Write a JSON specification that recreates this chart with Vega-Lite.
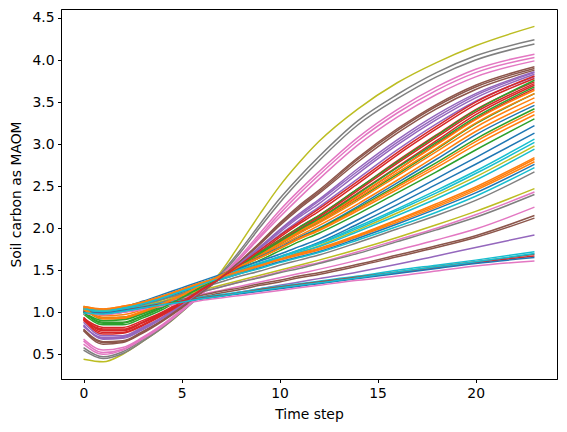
{"$schema":"https://vega.github.io/schema/vega-lite/v6.json","width":496,"height":370,"autosize":"none","padding":{"left":61,"top":9,"right":10,"bottom":53},"config":{"view":{"stroke":"#000","strokeWidth":1},"axis":{"grid":false,"domainColor":"#000","domainWidth":1,"tickColor":"#000","tickWidth":1,"tickSize":3.5,"labelColor":"#000","labelFont":"DejaVu Sans","labelFontSize":13.9,"labelPadding":3.5,"titleColor":"#000","titleFont":"DejaVu Sans","titleFontSize":13.9,"titleFontWeight":"normal"}},
"data":{"values":[
{"s":1,"t":0,"v":0.44},{"s":1,"t":1,"v":0.41},{"s":1,"t":2,"v":0.50},{"s":1,"t":3,"v":0.65},{"s":1,"t":4,"v":0.81},{"s":1,"t":5,"v":1.00},{"s":1,"t":6,"v":1.23},{"s":1,"t":7,"v":1.48},{"s":1,"t":8,"v":1.82},{"s":1,"t":9,"v":2.17},{"s":1,"t":10,"v":2.50},{"s":1,"t":11,"v":2.78},{"s":1,"t":12,"v":3.03},{"s":1,"t":14,"v":3.42},{"s":1,"t":16,"v":3.73},{"s":1,"t":18,"v":3.97},{"s":1,"t":20,"v":4.17},{"s":1,"t":23,"v":4.40},
{"s":2,"t":0,"v":0.58},{"s":2,"t":1,"v":0.47},{"s":2,"t":2,"v":0.53},{"s":2,"t":3,"v":0.67},{"s":2,"t":4,"v":0.83},{"s":2,"t":5,"v":1.02},{"s":2,"t":6,"v":1.23},{"s":2,"t":7,"v":1.46},{"s":2,"t":8,"v":1.74},{"s":2,"t":9,"v":2.05},{"s":2,"t":10,"v":2.35},{"s":2,"t":11,"v":2.61},{"s":2,"t":12,"v":2.85},{"s":2,"t":14,"v":3.28},{"s":2,"t":16,"v":3.59},{"s":2,"t":18,"v":3.85},{"s":2,"t":20,"v":4.05},{"s":2,"t":23,"v":4.24},
{"s":3,"t":0,"v":0.55},{"s":3,"t":1,"v":0.45},{"s":3,"t":2,"v":0.51},{"s":3,"t":3,"v":0.65},{"s":3,"t":4,"v":0.81},{"s":3,"t":5,"v":1.00},{"s":3,"t":6,"v":1.21},{"s":3,"t":7,"v":1.44},{"s":3,"t":8,"v":1.71},{"s":3,"t":9,"v":2.01},{"s":3,"t":10,"v":2.30},{"s":3,"t":11,"v":2.56},{"s":3,"t":12,"v":2.80},{"s":3,"t":14,"v":3.23},{"s":3,"t":16,"v":3.54},{"s":3,"t":18,"v":3.80},{"s":3,"t":20,"v":4.00},{"s":3,"t":23,"v":4.19},
{"s":4,"t":0,"v":0.66},{"s":4,"t":1,"v":0.52},{"s":4,"t":2,"v":0.56},{"s":4,"t":3,"v":0.69},{"s":4,"t":4,"v":0.84},{"s":4,"t":5,"v":1.02},{"s":4,"t":6,"v":1.22},{"s":4,"t":7,"v":1.43},{"s":4,"t":8,"v":1.67},{"s":4,"t":9,"v":1.94},{"s":4,"t":10,"v":2.21},{"s":4,"t":11,"v":2.45},{"s":4,"t":12,"v":2.67},{"s":4,"t":14,"v":3.08},{"s":4,"t":16,"v":3.41},{"s":4,"t":18,"v":3.68},{"s":4,"t":20,"v":3.89},{"s":4,"t":23,"v":4.07},
{"s":5,"t":0,"v":0.62},{"s":5,"t":1,"v":0.50},{"s":5,"t":2,"v":0.55},{"s":5,"t":3,"v":0.68},{"s":5,"t":4,"v":0.83},{"s":5,"t":5,"v":1.01},{"s":5,"t":6,"v":1.21},{"s":5,"t":7,"v":1.42},{"s":5,"t":8,"v":1.65},{"s":5,"t":9,"v":1.91},{"s":5,"t":10,"v":2.17},{"s":5,"t":11,"v":2.41},{"s":5,"t":12,"v":2.63},{"s":5,"t":14,"v":3.04},{"s":5,"t":16,"v":3.37},{"s":5,"t":18,"v":3.64},{"s":5,"t":20,"v":3.85},{"s":5,"t":23,"v":4.03},
{"s":6,"t":0,"v":0.68},{"s":6,"t":1,"v":0.55},{"s":6,"t":2,"v":0.58},{"s":6,"t":3,"v":0.70},{"s":6,"t":4,"v":0.85},{"s":6,"t":5,"v":1.03},{"s":6,"t":6,"v":1.22},{"s":6,"t":7,"v":1.42},{"s":6,"t":8,"v":1.64},{"s":6,"t":9,"v":1.89},{"s":6,"t":10,"v":2.13},{"s":6,"t":11,"v":2.36},{"s":6,"t":12,"v":2.58},{"s":6,"t":14,"v":2.99},{"s":6,"t":16,"v":3.32},{"s":6,"t":18,"v":3.59},{"s":6,"t":20,"v":3.80},{"s":6,"t":23,"v":3.99},
{"s":7,"t":0,"v":0.78},{"s":7,"t":1,"v":0.62},{"s":7,"t":2,"v":0.64},{"s":7,"t":3,"v":0.75},{"s":7,"t":4,"v":0.89},{"s":7,"t":5,"v":1.05},{"s":7,"t":6,"v":1.23},{"s":7,"t":7,"v":1.41},{"s":7,"t":8,"v":1.61},{"s":7,"t":9,"v":1.83},{"s":7,"t":10,"v":2.06},{"s":7,"t":11,"v":2.27},{"s":7,"t":12,"v":2.45},{"s":7,"t":14,"v":2.84},{"s":7,"t":16,"v":3.18},{"s":7,"t":18,"v":3.47},{"s":7,"t":20,"v":3.70},{"s":7,"t":23,"v":3.92},
{"s":8,"t":0,"v":0.80},{"s":8,"t":1,"v":0.65},{"s":8,"t":2,"v":0.66},{"s":8,"t":3,"v":0.77},{"s":8,"t":4,"v":0.90},{"s":8,"t":5,"v":1.06},{"s":8,"t":6,"v":1.23},{"s":8,"t":7,"v":1.41},{"s":8,"t":8,"v":1.60},{"s":8,"t":9,"v":1.81},{"s":8,"t":10,"v":2.03},{"s":8,"t":11,"v":2.23},{"s":8,"t":12,"v":2.41},{"s":8,"t":14,"v":2.79},{"s":8,"t":16,"v":3.13},{"s":8,"t":18,"v":3.42},{"s":8,"t":20,"v":3.65},{"s":8,"t":23,"v":3.88},
{"s":9,"t":0,"v":0.85},{"s":9,"t":1,"v":0.68},{"s":9,"t":2,"v":0.69},{"s":9,"t":3,"v":0.79},{"s":9,"t":4,"v":0.92},{"s":9,"t":5,"v":1.07},{"s":9,"t":6,"v":1.24},{"s":9,"t":7,"v":1.41},{"s":9,"t":8,"v":1.59},{"s":9,"t":9,"v":1.78},{"s":9,"t":10,"v":1.98},{"s":9,"t":11,"v":2.17},{"s":9,"t":12,"v":2.34},{"s":9,"t":14,"v":2.71},{"s":9,"t":16,"v":3.05},{"s":9,"t":18,"v":3.35},{"s":9,"t":20,"v":3.60},{"s":9,"t":23,"v":3.86},
{"s":10,"t":0,"v":0.83},{"s":10,"t":1,"v":0.70},{"s":10,"t":2,"v":0.71},{"s":10,"t":3,"v":0.81},{"s":10,"t":4,"v":0.93},{"s":10,"t":5,"v":1.08},{"s":10,"t":6,"v":1.24},{"s":10,"t":7,"v":1.41},{"s":10,"t":8,"v":1.58},{"s":10,"t":9,"v":1.76},{"s":10,"t":10,"v":1.95},{"s":10,"t":11,"v":2.13},{"s":10,"t":12,"v":2.29},{"s":10,"t":14,"v":2.65},{"s":10,"t":16,"v":2.99},{"s":10,"t":18,"v":3.29},{"s":10,"t":20,"v":3.55},{"s":10,"t":23,"v":3.83},
{"s":11,"t":0,"v":0.88},{"s":11,"t":1,"v":0.72},{"s":11,"t":2,"v":0.72},{"s":11,"t":3,"v":0.82},{"s":11,"t":4,"v":0.94},{"s":11,"t":5,"v":1.09},{"s":11,"t":6,"v":1.25},{"s":11,"t":7,"v":1.41},{"s":11,"t":8,"v":1.57},{"s":11,"t":9,"v":1.74},{"s":11,"t":10,"v":1.92},{"s":11,"t":11,"v":2.09},{"s":11,"t":12,"v":2.25},{"s":11,"t":14,"v":2.59},{"s":11,"t":16,"v":2.93},{"s":11,"t":18,"v":3.24},{"s":11,"t":20,"v":3.51},{"s":11,"t":23,"v":3.80},
{"s":12,"t":0,"v":0.92},{"s":12,"t":1,"v":0.76},{"s":12,"t":2,"v":0.76},{"s":12,"t":3,"v":0.85},{"s":12,"t":4,"v":0.97},{"s":12,"t":5,"v":1.11},{"s":12,"t":6,"v":1.26},{"s":12,"t":7,"v":1.41},{"s":12,"t":8,"v":1.56},{"s":12,"t":9,"v":1.72},{"s":12,"t":10,"v":1.89},{"s":12,"t":11,"v":2.05},{"s":12,"t":12,"v":2.20},{"s":12,"t":14,"v":2.53},{"s":12,"t":16,"v":2.87},{"s":12,"t":18,"v":3.18},{"s":12,"t":20,"v":3.47},{"s":12,"t":23,"v":3.78},
{"s":13,"t":0,"v":0.94},{"s":13,"t":1,"v":0.78},{"s":13,"t":2,"v":0.78},{"s":13,"t":3,"v":0.87},{"s":13,"t":4,"v":0.98},{"s":13,"t":5,"v":1.12},{"s":13,"t":6,"v":1.27},{"s":13,"t":7,"v":1.41},{"s":13,"t":8,"v":1.55},{"s":13,"t":9,"v":1.70},{"s":13,"t":10,"v":1.86},{"s":13,"t":11,"v":2.01},{"s":13,"t":12,"v":2.15},{"s":13,"t":14,"v":2.47},{"s":13,"t":16,"v":2.80},{"s":13,"t":18,"v":3.11},{"s":13,"t":20,"v":3.41},{"s":13,"t":23,"v":3.74},
{"s":14,"t":0,"v":0.90},{"s":14,"t":1,"v":0.80},{"s":14,"t":2,"v":0.80},{"s":14,"t":3,"v":0.88},{"s":14,"t":4,"v":0.99},{"s":14,"t":5,"v":1.12},{"s":14,"t":6,"v":1.27},{"s":14,"t":7,"v":1.41},{"s":14,"t":8,"v":1.54},{"s":14,"t":9,"v":1.68},{"s":14,"t":10,"v":1.83},{"s":14,"t":11,"v":1.97},{"s":14,"t":12,"v":2.11},{"s":14,"t":14,"v":2.42},{"s":14,"t":16,"v":2.73},{"s":14,"t":18,"v":3.04},{"s":14,"t":20,"v":3.35},{"s":14,"t":23,"v":3.70},
{"s":15,"t":0,"v":0.98},{"s":15,"t":1,"v":0.85},{"s":15,"t":2,"v":0.85},{"s":15,"t":3,"v":0.93},{"s":15,"t":4,"v":1.03},{"s":15,"t":5,"v":1.16},{"s":15,"t":6,"v":1.29},{"s":15,"t":7,"v":1.42},{"s":15,"t":8,"v":1.56},{"s":15,"t":9,"v":1.71},{"s":15,"t":10,"v":1.86},{"s":15,"t":11,"v":2.01},{"s":15,"t":12,"v":2.15},{"s":15,"t":14,"v":2.47},{"s":15,"t":16,"v":2.79},{"s":15,"t":18,"v":3.10},{"s":15,"t":20,"v":3.40},{"s":15,"t":23,"v":3.76},
{"s":16,"t":0,"v":0.93},{"s":16,"t":1,"v":0.82},{"s":16,"t":2,"v":0.82},{"s":16,"t":3,"v":0.90},{"s":16,"t":4,"v":1.00},{"s":16,"t":5,"v":1.13},{"s":16,"t":6,"v":1.27},{"s":16,"t":7,"v":1.41},{"s":16,"t":8,"v":1.54},{"s":16,"t":9,"v":1.67},{"s":16,"t":10,"v":1.81},{"s":16,"t":11,"v":1.95},{"s":16,"t":12,"v":2.08},{"s":16,"t":14,"v":2.38},{"s":16,"t":16,"v":2.69},{"s":16,"t":18,"v":3.00},{"s":16,"t":20,"v":3.30},{"s":16,"t":23,"v":3.66},
{"s":17,"t":0,"v":1.05},{"s":17,"t":1,"v":0.92},{"s":17,"t":2,"v":0.92},{"s":17,"t":3,"v":0.99},{"s":17,"t":4,"v":1.08},{"s":17,"t":5,"v":1.19},{"s":17,"t":6,"v":1.31},{"s":17,"t":7,"v":1.43},{"s":17,"t":8,"v":1.56},{"s":17,"t":9,"v":1.69},{"s":17,"t":10,"v":1.83},{"s":17,"t":11,"v":1.97},{"s":17,"t":12,"v":2.10},{"s":17,"t":14,"v":2.39},{"s":17,"t":16,"v":2.69},{"s":17,"t":18,"v":2.99},{"s":17,"t":20,"v":3.29},{"s":17,"t":23,"v":3.64},
{"s":18,"t":0,"v":1.01},{"s":18,"t":1,"v":0.88},{"s":18,"t":2,"v":0.88},{"s":18,"t":3,"v":0.96},{"s":18,"t":4,"v":1.06},{"s":18,"t":5,"v":1.17},{"s":18,"t":6,"v":1.30},{"s":18,"t":7,"v":1.42},{"s":18,"t":8,"v":1.55},{"s":18,"t":9,"v":1.68},{"s":18,"t":10,"v":1.81},{"s":18,"t":11,"v":1.94},{"s":18,"t":12,"v":2.07},{"s":18,"t":14,"v":2.35},{"s":18,"t":16,"v":2.64},{"s":18,"t":18,"v":2.94},{"s":18,"t":20,"v":3.24},{"s":18,"t":23,"v":3.60},
{"s":19,"t":0,"v":1.06},{"s":19,"t":1,"v":0.93},{"s":19,"t":2,"v":0.93},{"s":19,"t":3,"v":1.00},{"s":19,"t":4,"v":1.09},{"s":19,"t":5,"v":1.20},{"s":19,"t":6,"v":1.32},{"s":19,"t":7,"v":1.44},{"s":19,"t":8,"v":1.56},{"s":19,"t":9,"v":1.68},{"s":19,"t":10,"v":1.81},{"s":19,"t":11,"v":1.94},{"s":19,"t":12,"v":2.06},{"s":19,"t":14,"v":2.33},{"s":19,"t":16,"v":2.62},{"s":19,"t":18,"v":2.91},{"s":19,"t":20,"v":3.20},{"s":19,"t":23,"v":3.55},
{"s":20,"t":0,"v":1.04},{"s":20,"t":1,"v":0.94},{"s":20,"t":2,"v":0.94},{"s":20,"t":3,"v":1.01},{"s":20,"t":4,"v":1.10},{"s":20,"t":5,"v":1.21},{"s":20,"t":6,"v":1.32},{"s":20,"t":7,"v":1.44},{"s":20,"t":8,"v":1.56},{"s":20,"t":9,"v":1.67},{"s":20,"t":10,"v":1.79},{"s":20,"t":11,"v":1.91},{"s":20,"t":12,"v":2.03},{"s":20,"t":14,"v":2.29},{"s":20,"t":16,"v":2.57},{"s":20,"t":18,"v":2.86},{"s":20,"t":20,"v":3.15},{"s":20,"t":23,"v":3.50},
{"s":21,"t":0,"v":1.02},{"s":21,"t":1,"v":0.98},{"s":21,"t":2,"v":1.01},{"s":21,"t":3,"v":1.07},{"s":21,"t":4,"v":1.15},{"s":21,"t":5,"v":1.24},{"s":21,"t":6,"v":1.34},{"s":21,"t":7,"v":1.44},{"s":21,"t":8,"v":1.55},{"s":21,"t":9,"v":1.66},{"s":21,"t":10,"v":1.77},{"s":21,"t":11,"v":1.89},{"s":21,"t":12,"v":2.00},{"s":21,"t":14,"v":2.26},{"s":21,"t":16,"v":2.54},{"s":21,"t":18,"v":2.82},{"s":21,"t":20,"v":3.11},{"s":21,"t":23,"v":3.46},
{"s":22,"t":0,"v":1.00},{"s":22,"t":1,"v":0.90},{"s":22,"t":2,"v":0.91},{"s":22,"t":3,"v":0.98},{"s":22,"t":4,"v":1.07},{"s":22,"t":5,"v":1.18},{"s":22,"t":6,"v":1.30},{"s":22,"t":7,"v":1.42},{"s":22,"t":8,"v":1.54},{"s":22,"t":9,"v":1.65},{"s":22,"t":10,"v":1.76},{"s":22,"t":11,"v":1.88},{"s":22,"t":12,"v":1.99},{"s":22,"t":14,"v":2.24},{"s":22,"t":16,"v":2.51},{"s":22,"t":18,"v":2.78},{"s":22,"t":20,"v":3.06},{"s":22,"t":23,"v":3.42},
{"s":23,"t":0,"v":1.05},{"s":23,"t":1,"v":0.96},{"s":23,"t":2,"v":0.97},{"s":23,"t":3,"v":1.03},{"s":23,"t":4,"v":1.12},{"s":23,"t":5,"v":1.22},{"s":23,"t":6,"v":1.33},{"s":23,"t":7,"v":1.44},{"s":23,"t":8,"v":1.55},{"s":23,"t":9,"v":1.65},{"s":23,"t":10,"v":1.76},{"s":23,"t":11,"v":1.87},{"s":23,"t":12,"v":1.97},{"s":23,"t":14,"v":2.21},{"s":23,"t":16,"v":2.46},{"s":23,"t":18,"v":2.72},{"s":23,"t":20,"v":2.99},{"s":23,"t":23,"v":3.35},
{"s":24,"t":0,"v":1.03},{"s":24,"t":1,"v":0.93},{"s":24,"t":2,"v":0.94},{"s":24,"t":3,"v":1.00},{"s":24,"t":4,"v":1.09},{"s":24,"t":5,"v":1.19},{"s":24,"t":6,"v":1.30},{"s":24,"t":7,"v":1.42},{"s":24,"t":8,"v":1.52},{"s":24,"t":9,"v":1.62},{"s":24,"t":10,"v":1.73},{"s":24,"t":11,"v":1.84},{"s":24,"t":12,"v":1.94},{"s":24,"t":14,"v":2.17},{"s":24,"t":16,"v":2.42},{"s":24,"t":18,"v":2.67},{"s":24,"t":20,"v":2.93},{"s":24,"t":23,"v":3.30},
{"s":25,"t":0,"v":1.03},{"s":25,"t":1,"v":1.02},{"s":25,"t":2,"v":1.06},{"s":25,"t":3,"v":1.13},{"s":25,"t":4,"v":1.21},{"s":25,"t":5,"v":1.29},{"s":25,"t":6,"v":1.37},{"s":25,"t":7,"v":1.45},{"s":25,"t":8,"v":1.53},{"s":25,"t":9,"v":1.61},{"s":25,"t":10,"v":1.69},{"s":25,"t":11,"v":1.78},{"s":25,"t":12,"v":1.87},{"s":25,"t":14,"v":2.10},{"s":25,"t":16,"v":2.34},{"s":25,"t":18,"v":2.59},{"s":25,"t":20,"v":2.84},{"s":25,"t":23,"v":3.22},
{"s":26,"t":0,"v":1.01},{"s":26,"t":1,"v":1.00},{"s":26,"t":2,"v":1.04},{"s":26,"t":3,"v":1.10},{"s":26,"t":4,"v":1.18},{"s":26,"t":5,"v":1.26},{"s":26,"t":6,"v":1.34},{"s":26,"t":7,"v":1.42},{"s":26,"t":8,"v":1.50},{"s":26,"t":9,"v":1.58},{"s":26,"t":10,"v":1.66},{"s":26,"t":11,"v":1.74},{"s":26,"t":12,"v":1.83},{"s":26,"t":14,"v":2.05},{"s":26,"t":16,"v":2.28},{"s":26,"t":18,"v":2.52},{"s":26,"t":20,"v":2.76},{"s":26,"t":23,"v":3.13},
{"s":27,"t":0,"v":1.07},{"s":27,"t":1,"v":1.03},{"s":27,"t":2,"v":1.06},{"s":27,"t":3,"v":1.12},{"s":27,"t":4,"v":1.19},{"s":27,"t":5,"v":1.27},{"s":27,"t":6,"v":1.35},{"s":27,"t":7,"v":1.43},{"s":27,"t":8,"v":1.51},{"s":27,"t":9,"v":1.59},{"s":27,"t":10,"v":1.66},{"s":27,"t":11,"v":1.74},{"s":27,"t":12,"v":1.82},{"s":27,"t":14,"v":2.02},{"s":27,"t":16,"v":2.23},{"s":27,"t":18,"v":2.45},{"s":27,"t":20,"v":2.68},{"s":27,"t":23,"v":3.06},
{"s":28,"t":0,"v":1.00},{"s":28,"t":1,"v":0.98},{"s":28,"t":2,"v":1.02},{"s":28,"t":3,"v":1.08},{"s":28,"t":4,"v":1.15},{"s":28,"t":5,"v":1.23},{"s":28,"t":6,"v":1.31},{"s":28,"t":7,"v":1.39},{"s":28,"t":8,"v":1.47},{"s":28,"t":9,"v":1.55},{"s":28,"t":10,"v":1.63},{"s":28,"t":11,"v":1.71},{"s":28,"t":12,"v":1.79},{"s":28,"t":14,"v":1.98},{"s":28,"t":16,"v":2.18},{"s":28,"t":18,"v":2.39},{"s":28,"t":20,"v":2.61},{"s":28,"t":23,"v":2.98},
{"s":29,"t":0,"v":1.05},{"s":29,"t":1,"v":1.02},{"s":29,"t":2,"v":1.05},{"s":29,"t":3,"v":1.11},{"s":29,"t":4,"v":1.18},{"s":29,"t":5,"v":1.26},{"s":29,"t":6,"v":1.34},{"s":29,"t":7,"v":1.42},{"s":29,"t":8,"v":1.49},{"s":29,"t":9,"v":1.56},{"s":29,"t":10,"v":1.63},{"s":29,"t":11,"v":1.71},{"s":29,"t":12,"v":1.78},{"s":29,"t":14,"v":1.96},{"s":29,"t":16,"v":2.15},{"s":29,"t":18,"v":2.35},{"s":29,"t":20,"v":2.57},{"s":29,"t":23,"v":2.94},
{"s":30,"t":0,"v":1.07},{"s":30,"t":1,"v":1.04},{"s":30,"t":2,"v":1.07},{"s":30,"t":3,"v":1.12},{"s":30,"t":4,"v":1.19},{"s":30,"t":5,"v":1.27},{"s":30,"t":6,"v":1.35},{"s":30,"t":7,"v":1.42},{"s":30,"t":8,"v":1.49},{"s":30,"t":9,"v":1.56},{"s":30,"t":10,"v":1.63},{"s":30,"t":11,"v":1.70},{"s":30,"t":12,"v":1.76},{"s":30,"t":14,"v":1.92},{"s":30,"t":16,"v":2.10},{"s":30,"t":18,"v":2.29},{"s":30,"t":20,"v":2.49},{"s":30,"t":23,"v":2.84},
{"s":31,"t":0,"v":1.06},{"s":31,"t":1,"v":1.03},{"s":31,"t":2,"v":1.06},{"s":31,"t":3,"v":1.11},{"s":31,"t":4,"v":1.18},{"s":31,"t":5,"v":1.26},{"s":31,"t":6,"v":1.34},{"s":31,"t":7,"v":1.41},{"s":31,"t":8,"v":1.48},{"s":31,"t":9,"v":1.55},{"s":31,"t":10,"v":1.62},{"s":31,"t":11,"v":1.68},{"s":31,"t":12,"v":1.74},{"s":31,"t":14,"v":1.90},{"s":31,"t":16,"v":2.07},{"s":31,"t":18,"v":2.25},{"s":31,"t":20,"v":2.45},{"s":31,"t":23,"v":2.79},
{"s":32,"t":0,"v":1.00},{"s":32,"t":1,"v":0.99},{"s":32,"t":2,"v":1.03},{"s":32,"t":3,"v":1.09},{"s":32,"t":4,"v":1.16},{"s":32,"t":5,"v":1.24},{"s":32,"t":6,"v":1.32},{"s":32,"t":7,"v":1.39},{"s":32,"t":8,"v":1.46},{"s":32,"t":9,"v":1.53},{"s":32,"t":10,"v":1.60},{"s":32,"t":11,"v":1.66},{"s":32,"t":12,"v":1.72},{"s":32,"t":14,"v":1.88},{"s":32,"t":16,"v":2.05},{"s":32,"t":18,"v":2.23},{"s":32,"t":20,"v":2.42},{"s":32,"t":23,"v":2.76},
{"s":33,"t":0,"v":1.04},{"s":33,"t":1,"v":1.02},{"s":33,"t":2,"v":1.05},{"s":33,"t":3,"v":1.10},{"s":33,"t":4,"v":1.17},{"s":33,"t":5,"v":1.25},{"s":33,"t":6,"v":1.32},{"s":33,"t":7,"v":1.39},{"s":33,"t":8,"v":1.46},{"s":33,"t":9,"v":1.52},{"s":33,"t":10,"v":1.59},{"s":33,"t":11,"v":1.65},{"s":33,"t":12,"v":1.71},{"s":33,"t":14,"v":1.86},{"s":33,"t":16,"v":2.02},{"s":33,"t":18,"v":2.19},{"s":33,"t":20,"v":2.38},{"s":33,"t":23,"v":2.72},
{"s":34,"t":0,"v":1.02},{"s":34,"t":1,"v":1.00},{"s":34,"t":2,"v":1.03},{"s":34,"t":3,"v":1.08},{"s":34,"t":4,"v":1.15},{"s":34,"t":5,"v":1.22},{"s":34,"t":6,"v":1.29},{"s":34,"t":7,"v":1.36},{"s":34,"t":8,"v":1.43},{"s":34,"t":9,"v":1.49},{"s":34,"t":10,"v":1.56},{"s":34,"t":11,"v":1.62},{"s":34,"t":12,"v":1.68},{"s":34,"t":14,"v":1.83},{"s":34,"t":16,"v":1.99},{"s":34,"t":18,"v":2.15},{"s":34,"t":20,"v":2.33},{"s":34,"t":23,"v":2.67},
{"s":35,"t":0,"v":1.03},{"s":35,"t":1,"v":1.01},{"s":35,"t":2,"v":1.03},{"s":35,"t":3,"v":1.07},{"s":35,"t":4,"v":1.13},{"s":35,"t":5,"v":1.19},{"s":35,"t":6,"v":1.26},{"s":35,"t":7,"v":1.32},{"s":35,"t":8,"v":1.38},{"s":35,"t":9,"v":1.44},{"s":35,"t":10,"v":1.50},{"s":35,"t":11,"v":1.56},{"s":35,"t":12,"v":1.62},{"s":35,"t":14,"v":1.75},{"s":35,"t":16,"v":1.89},{"s":35,"t":18,"v":2.04},{"s":35,"t":20,"v":2.20},{"s":35,"t":23,"v":2.47},
{"s":36,"t":0,"v":1.00},{"s":36,"t":1,"v":0.99},{"s":36,"t":2,"v":1.01},{"s":36,"t":3,"v":1.05},{"s":36,"t":4,"v":1.11},{"s":36,"t":5,"v":1.17},{"s":36,"t":6,"v":1.24},{"s":36,"t":7,"v":1.30},{"s":36,"t":8,"v":1.36},{"s":36,"t":9,"v":1.42},{"s":36,"t":10,"v":1.48},{"s":36,"t":11,"v":1.54},{"s":36,"t":12,"v":1.59},{"s":36,"t":14,"v":1.72},{"s":36,"t":16,"v":1.86},{"s":36,"t":18,"v":2.00},{"s":36,"t":20,"v":2.16},{"s":36,"t":23,"v":2.43},
{"s":37,"t":0,"v":1.02},{"s":37,"t":1,"v":1.00},{"s":37,"t":2,"v":1.02},{"s":37,"t":3,"v":1.06},{"s":37,"t":4,"v":1.12},{"s":37,"t":5,"v":1.18},{"s":37,"t":6,"v":1.24},{"s":37,"t":7,"v":1.30},{"s":37,"t":8,"v":1.36},{"s":37,"t":9,"v":1.41},{"s":37,"t":10,"v":1.47},{"s":37,"t":11,"v":1.52},{"s":37,"t":12,"v":1.58},{"s":37,"t":14,"v":1.70},{"s":37,"t":16,"v":1.84},{"s":37,"t":18,"v":1.98},{"s":37,"t":20,"v":2.13},{"s":37,"t":23,"v":2.40},
{"s":38,"t":0,"v":1.00},{"s":38,"t":1,"v":0.99},{"s":38,"t":2,"v":1.01},{"s":38,"t":3,"v":1.05},{"s":38,"t":4,"v":1.10},{"s":38,"t":5,"v":1.15},{"s":38,"t":6,"v":1.21},{"s":38,"t":7,"v":1.26},{"s":38,"t":8,"v":1.31},{"s":38,"t":9,"v":1.36},{"s":38,"t":10,"v":1.41},{"s":38,"t":11,"v":1.46},{"s":38,"t":12,"v":1.51},{"s":38,"t":14,"v":1.62},{"s":38,"t":16,"v":1.74},{"s":38,"t":18,"v":1.86},{"s":38,"t":20,"v":1.99},{"s":38,"t":23,"v":2.25},
{"s":39,"t":0,"v":1.02},{"s":39,"t":1,"v":1.00},{"s":39,"t":2,"v":1.02},{"s":39,"t":3,"v":1.06},{"s":39,"t":4,"v":1.10},{"s":39,"t":5,"v":1.15},{"s":39,"t":6,"v":1.20},{"s":39,"t":7,"v":1.25},{"s":39,"t":8,"v":1.29},{"s":39,"t":9,"v":1.34},{"s":39,"t":10,"v":1.38},{"s":39,"t":11,"v":1.43},{"s":39,"t":12,"v":1.47},{"s":39,"t":14,"v":1.57},{"s":39,"t":16,"v":1.68},{"s":39,"t":18,"v":1.79},{"s":39,"t":20,"v":1.91},{"s":39,"t":23,"v":2.15},
{"s":40,"t":0,"v":1.00},{"s":40,"t":1,"v":0.98},{"s":40,"t":2,"v":1.00},{"s":40,"t":3,"v":1.04},{"s":40,"t":4,"v":1.08},{"s":40,"t":5,"v":1.13},{"s":40,"t":6,"v":1.18},{"s":40,"t":7,"v":1.23},{"s":40,"t":8,"v":1.27},{"s":40,"t":9,"v":1.32},{"s":40,"t":10,"v":1.36},{"s":40,"t":11,"v":1.41},{"s":40,"t":12,"v":1.45},{"s":40,"t":14,"v":1.55},{"s":40,"t":16,"v":1.66},{"s":40,"t":18,"v":1.77},{"s":40,"t":20,"v":1.89},{"s":40,"t":23,"v":2.12},
{"s":41,"t":0,"v":1.00},{"s":41,"t":1,"v":0.98},{"s":41,"t":2,"v":1.00},{"s":41,"t":3,"v":1.04},{"s":41,"t":4,"v":1.08},{"s":41,"t":5,"v":1.12},{"s":41,"t":6,"v":1.16},{"s":41,"t":7,"v":1.20},{"s":41,"t":8,"v":1.24},{"s":41,"t":9,"v":1.28},{"s":41,"t":10,"v":1.32},{"s":41,"t":11,"v":1.36},{"s":41,"t":12,"v":1.40},{"s":41,"t":14,"v":1.48},{"s":41,"t":16,"v":1.57},{"s":41,"t":18,"v":1.67},{"s":41,"t":20,"v":1.77},{"s":41,"t":23,"v":1.92},
{"s":42,"t":0,"v":1.02},{"s":42,"t":1,"v":1.00},{"s":42,"t":2,"v":1.03},{"s":42,"t":3,"v":1.07},{"s":42,"t":4,"v":1.11},{"s":42,"t":5,"v":1.14},{"s":42,"t":6,"v":1.18},{"s":42,"t":7,"v":1.21},{"s":42,"t":8,"v":1.24},{"s":42,"t":9,"v":1.28},{"s":42,"t":10,"v":1.31},{"s":42,"t":11,"v":1.34},{"s":42,"t":12,"v":1.37},{"s":42,"t":14,"v":1.43},{"s":42,"t":16,"v":1.50},{"s":42,"t":18,"v":1.56},{"s":42,"t":20,"v":1.62},{"s":42,"t":23,"v":1.72},
{"s":43,"t":0,"v":1.01},{"s":43,"t":1,"v":0.99},{"s":43,"t":2,"v":1.02},{"s":43,"t":3,"v":1.06},{"s":43,"t":4,"v":1.10},{"s":43,"t":5,"v":1.13},{"s":43,"t":6,"v":1.17},{"s":43,"t":7,"v":1.20},{"s":43,"t":8,"v":1.23},{"s":43,"t":9,"v":1.27},{"s":43,"t":10,"v":1.30},{"s":43,"t":11,"v":1.33},{"s":43,"t":12,"v":1.36},{"s":43,"t":14,"v":1.42},{"s":43,"t":16,"v":1.48},{"s":43,"t":18,"v":1.54},{"s":43,"t":20,"v":1.60},{"s":43,"t":23,"v":1.69},
{"s":44,"t":0,"v":1.00},{"s":44,"t":1,"v":0.99},{"s":44,"t":2,"v":1.02},{"s":44,"t":3,"v":1.05},{"s":44,"t":4,"v":1.09},{"s":44,"t":5,"v":1.13},{"s":44,"t":6,"v":1.16},{"s":44,"t":7,"v":1.19},{"s":44,"t":8,"v":1.23},{"s":44,"t":9,"v":1.26},{"s":44,"t":10,"v":1.29},{"s":44,"t":11,"v":1.32},{"s":44,"t":12,"v":1.35},{"s":44,"t":14,"v":1.41},{"s":44,"t":16,"v":1.47},{"s":44,"t":18,"v":1.53},{"s":44,"t":20,"v":1.59},{"s":44,"t":23,"v":1.67},
{"s":45,"t":0,"v":1.00},{"s":45,"t":1,"v":0.99},{"s":45,"t":2,"v":1.02},{"s":45,"t":3,"v":1.05},{"s":45,"t":4,"v":1.09},{"s":45,"t":5,"v":1.12},{"s":45,"t":6,"v":1.16},{"s":45,"t":7,"v":1.19},{"s":45,"t":8,"v":1.22},{"s":45,"t":9,"v":1.25},{"s":45,"t":10,"v":1.28},{"s":45,"t":11,"v":1.31},{"s":45,"t":12,"v":1.34},{"s":45,"t":14,"v":1.40},{"s":45,"t":16,"v":1.46},{"s":45,"t":18,"v":1.52},{"s":45,"t":20,"v":1.58},{"s":45,"t":23,"v":1.65},
{"s":46,"t":0,"v":0.98},{"s":46,"t":1,"v":0.97},{"s":46,"t":2,"v":1.00},{"s":46,"t":3,"v":1.03},{"s":46,"t":4,"v":1.07},{"s":46,"t":5,"v":1.10},{"s":46,"t":6,"v":1.14},{"s":46,"t":7,"v":1.17},{"s":46,"t":8,"v":1.20},{"s":46,"t":9,"v":1.23},{"s":46,"t":10,"v":1.26},{"s":46,"t":11,"v":1.29},{"s":46,"t":12,"v":1.32},{"s":46,"t":14,"v":1.38},{"s":46,"t":16,"v":1.43},{"s":46,"t":18,"v":1.49},{"s":46,"t":20,"v":1.55},{"s":46,"t":23,"v":1.61},
{"s":47,"t":0,"v":0.92},{"s":47,"t":1,"v":0.79},{"s":47,"t":2,"v":0.79},{"s":47,"t":3,"v":0.88},{"s":47,"t":4,"v":0.99},{"s":47,"t":5,"v":1.12},{"s":47,"t":6,"v":1.27},{"s":47,"t":7,"v":1.41},{"s":47,"t":8,"v":1.55},{"s":47,"t":9,"v":1.69},{"s":47,"t":10,"v":1.85},{"s":47,"t":11,"v":1.99},{"s":47,"t":12,"v":2.13},{"s":47,"t":14,"v":2.45},{"s":47,"t":16,"v":2.77},{"s":47,"t":18,"v":3.08},{"s":47,"t":20,"v":3.38},{"s":47,"t":23,"v":3.72},
{"s":48,"t":0,"v":0.84},{"s":48,"t":1,"v":0.69},{"s":48,"t":2,"v":0.70},{"s":48,"t":3,"v":0.80},{"s":48,"t":4,"v":0.93},{"s":48,"t":5,"v":1.08},{"s":48,"t":6,"v":1.24},{"s":48,"t":7,"v":1.41},{"s":48,"t":8,"v":1.59},{"s":48,"t":9,"v":1.77},{"s":48,"t":10,"v":1.97},{"s":48,"t":11,"v":2.15},{"s":48,"t":12,"v":2.32},{"s":48,"t":14,"v":2.68},{"s":48,"t":16,"v":3.02},{"s":48,"t":18,"v":3.32},{"s":48,"t":20,"v":3.58},{"s":48,"t":23,"v":3.85},
{"s":49,"t":0,"v":1.06},{"s":49,"t":1,"v":0.93},{"s":49,"t":2,"v":0.93},{"s":49,"t":3,"v":1.00},{"s":49,"t":4,"v":1.09},{"s":49,"t":5,"v":1.20},{"s":49,"t":6,"v":1.32},{"s":49,"t":7,"v":1.44},{"s":49,"t":8,"v":1.56},{"s":49,"t":9,"v":1.69},{"s":49,"t":10,"v":1.82},{"s":49,"t":11,"v":1.96},{"s":49,"t":12,"v":2.08},{"s":49,"t":14,"v":2.36},{"s":49,"t":16,"v":2.66},{"s":49,"t":18,"v":2.95},{"s":49,"t":20,"v":3.25},{"s":49,"t":23,"v":3.60},
{"s":50,"t":0,"v":1.00},{"s":50,"t":1,"v":0.87},{"s":50,"t":2,"v":0.87},{"s":50,"t":3,"v":0.95},{"s":50,"t":4,"v":1.05},{"s":50,"t":5,"v":1.17},{"s":50,"t":6,"v":1.30},{"s":50,"t":7,"v":1.42},{"s":50,"t":8,"v":1.56},{"s":50,"t":9,"v":1.70},{"s":50,"t":10,"v":1.84},{"s":50,"t":11,"v":1.98},{"s":50,"t":12,"v":2.11},{"s":50,"t":14,"v":2.41},{"s":50,"t":16,"v":2.72},{"s":50,"t":18,"v":3.02},{"s":50,"t":20,"v":3.32},{"s":50,"t":23,"v":3.68},
{"s":51,"t":0,"v":1.03},{"s":51,"t":1,"v":0.93},{"s":51,"t":2,"v":0.94},{"s":51,"t":3,"v":1.01},{"s":51,"t":4,"v":1.10},{"s":51,"t":5,"v":1.20},{"s":51,"t":6,"v":1.32},{"s":51,"t":7,"v":1.43},{"s":51,"t":8,"v":1.55},{"s":51,"t":9,"v":1.65},{"s":51,"t":10,"v":1.76},{"s":51,"t":11,"v":1.88},{"s":51,"t":12,"v":1.98},{"s":51,"t":14,"v":2.23},{"s":51,"t":16,"v":2.49},{"s":51,"t":18,"v":2.75},{"s":51,"t":20,"v":3.03},{"s":51,"t":23,"v":3.39},
{"s":52,"t":0,"v":1.04},{"s":52,"t":1,"v":1.01},{"s":52,"t":2,"v":1.04},{"s":52,"t":3,"v":1.10},{"s":52,"t":4,"v":1.17},{"s":52,"t":5,"v":1.25},{"s":52,"t":6,"v":1.33},{"s":52,"t":7,"v":1.41},{"s":52,"t":8,"v":1.49},{"s":52,"t":9,"v":1.57},{"s":52,"t":10,"v":1.65},{"s":52,"t":11,"v":1.73},{"s":52,"t":12,"v":1.81},{"s":52,"t":14,"v":2.00},{"s":52,"t":16,"v":2.21},{"s":52,"t":18,"v":2.42},{"s":52,"t":20,"v":2.65},{"s":52,"t":23,"v":3.02},
{"s":53,"t":0,"v":1.07},{"s":53,"t":1,"v":1.04},{"s":53,"t":2,"v":1.07},{"s":53,"t":3,"v":1.12},{"s":53,"t":4,"v":1.19},{"s":53,"t":5,"v":1.27},{"s":53,"t":6,"v":1.35},{"s":53,"t":7,"v":1.42},{"s":53,"t":8,"v":1.49},{"s":53,"t":9,"v":1.56},{"s":53,"t":10,"v":1.63},{"s":53,"t":11,"v":1.69},{"s":53,"t":12,"v":1.75},{"s":53,"t":14,"v":1.91},{"s":53,"t":16,"v":2.09},{"s":53,"t":18,"v":2.27},{"s":53,"t":20,"v":2.47},{"s":53,"t":23,"v":2.82},
{"s":54,"t":0,"v":0.79},{"s":54,"t":1,"v":0.64},{"s":54,"t":2,"v":0.65},{"s":54,"t":3,"v":0.76},{"s":54,"t":4,"v":0.90},{"s":54,"t":5,"v":1.06},{"s":54,"t":6,"v":1.23},{"s":54,"t":7,"v":1.41},{"s":54,"t":8,"v":1.61},{"s":54,"t":9,"v":1.82},{"s":54,"t":10,"v":2.05},{"s":54,"t":11,"v":2.25},{"s":54,"t":12,"v":2.43},{"s":54,"t":14,"v":2.82},{"s":54,"t":16,"v":3.16},{"s":54,"t":18,"v":3.45},{"s":54,"t":20,"v":3.68},{"s":54,"t":23,"v":3.90},
{"s":55,"t":0,"v":0.91},{"s":55,"t":1,"v":0.74},{"s":55,"t":2,"v":0.75},{"s":55,"t":3,"v":0.84},{"s":55,"t":4,"v":0.96},{"s":55,"t":5,"v":1.10},{"s":55,"t":6,"v":1.26},{"s":55,"t":7,"v":1.41},{"s":55,"t":8,"v":1.57},{"s":55,"t":9,"v":1.74},{"s":55,"t":10,"v":1.91},{"s":55,"t":11,"v":2.07},{"s":55,"t":12,"v":2.23},{"s":55,"t":14,"v":2.56},{"s":55,"t":16,"v":2.90},{"s":55,"t":18,"v":3.21},{"s":55,"t":20,"v":3.50},{"s":55,"t":23,"v":3.81},
{"s":56,"t":0,"v":0.99},{"s":56,"t":1,"v":0.98},{"s":56,"t":2,"v":1.01},{"s":56,"t":3,"v":1.05},{"s":56,"t":4,"v":1.09},{"s":56,"t":5,"v":1.12},{"s":56,"t":6,"v":1.16},{"s":56,"t":7,"v":1.19},{"s":56,"t":8,"v":1.23},{"s":56,"t":9,"v":1.26},{"s":56,"t":10,"v":1.29},{"s":56,"t":11,"v":1.32},{"s":56,"t":12,"v":1.35},{"s":56,"t":14,"v":1.41},{"s":56,"t":16,"v":1.48},{"s":56,"t":18,"v":1.54},{"s":56,"t":20,"v":1.60},{"s":56,"t":23,"v":1.70}
]},
"mark":{"type":"line","strokeWidth":1.5,"clip":true,"interpolate":"monotone"},
"encoding":{
"x":{"field":"t","type":"quantitative","title":"Time step","scale":{"domain":[-1.15,24.15],"nice":false,"zero":false},"axis":{"values":[0,5,10,15,20],"titlePadding":8}},
"y":{"field":"v","type":"quantitative","title":"Soil carbon as MAOM","scale":{"domain":[0.206,4.607],"nice":false,"zero":false},"axis":{"values":[0.5,1.0,1.5,2.0,2.5,3.0,3.5,4.0,4.5],"format":".1f","titlePadding":8}},
"color":{"field":"s","type":"nominal","legend":null,"scale":{"domain":[1,2,3,4,5,6,7,8,9,10,11,12,13,14,15,16,17,18,19,20,21,22,23,24,25,26,27,28,29,30,31,32,33,34,35,36,37,38,39,40,41,42,43,44,45,46,47,48,49,50,51,52,53,54,55,56],"range":["#bcbd22","#7f7f7f","#7f7f7f","#e377c2","#e377c2","#e377c2","#8c564b","#8c564b","#9467bd","#9467bd","#9467bd","#d62728","#d62728","#d62728","#2ca02c","#d62728","#ff7f0e","#2ca02c","#ff7f0e","#ff7f0e","#1f77b4","#2ca02c","#ff7f0e","#2ca02c","#1f77b4","#1f77b4","#17becf","#bcbd22","#17becf","#ff7f0e","#ff7f0e","#1f77b4","#17becf","#7f7f7f","#bcbd22","#e377c2","#7f7f7f","#e377c2","#8c564b","#8c564b","#9467bd","#17becf","#8c564b","#d62728","#1f77b4","#e377c2","#d62728","#9467bd","#ff7f0e","#2ca02c","#ff7f0e","#17becf","#ff7f0e","#8c564b","#d62728","#17becf"]}},
"order":{"field":"t","type":"quantitative"}
}}
